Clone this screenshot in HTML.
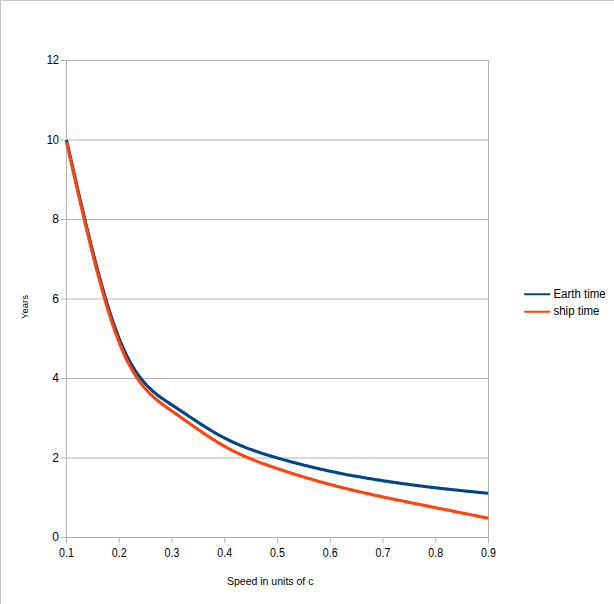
<!DOCTYPE html>
<html><head><meta charset="utf-8"><style>
html,body{margin:0;padding:0;background:#fff;}
body{width:614px;height:604px;overflow:hidden;position:relative;}
svg{position:absolute;left:0;top:0;}
text{font-family:"Liberation Sans",sans-serif;fill:#000;}
</style></head><body>
<svg width="614" height="604" viewBox="0 0 614 604">
<defs><clipPath id="pa"><rect x="64" y="40" width="424" height="520"/></clipPath></defs>
<rect x="0" y="0" width="614" height="604" fill="#fff"/>
<rect x="0" y="0" width="1" height="604" fill="#c6c6c6"/>
<rect x="0" y="0" width="614" height="1" fill="#c6c6c6"/>
<g stroke="#b3b3b3" stroke-width="1">
<line x1="61" y1="537.50" x2="488.5" y2="537.50"/><line x1="61" y1="458.00" x2="488.5" y2="458.00"/><line x1="61" y1="378.50" x2="488.5" y2="378.50"/><line x1="61" y1="299.00" x2="488.5" y2="299.00"/><line x1="61" y1="219.50" x2="488.5" y2="219.50"/><line x1="61" y1="140.00" x2="488.5" y2="140.00"/><line x1="61" y1="60.50" x2="488.5" y2="60.50"/>
<line x1="66.5" y1="60" x2="66.5" y2="543"/>
<line x1="488.5" y1="60" x2="488.5" y2="537.5"/>
<line x1="66.50" y1="537" x2="66.50" y2="543"/><line x1="119.25" y1="537" x2="119.25" y2="543"/><line x1="172.00" y1="537" x2="172.00" y2="543"/><line x1="224.75" y1="537" x2="224.75" y2="543"/><line x1="277.50" y1="537" x2="277.50" y2="543"/><line x1="330.25" y1="537" x2="330.25" y2="543"/><line x1="383.00" y1="537" x2="383.00" y2="543"/><line x1="435.75" y1="537" x2="435.75" y2="543"/><line x1="488.50" y1="537" x2="488.50" y2="543"/>
</g>
<g fill="none" stroke-width="3.1" stroke-linejoin="round" stroke-linecap="butt" transform="translate(0.5,0.5)" clip-path="url(#pa)">
<path d="M66.00 139.50 L67.32 145.30 L68.64 151.10 L69.96 156.89 L71.27 162.68 L72.59 168.45 L73.91 174.20 L75.23 179.94 L76.55 185.65 L77.87 191.34 L79.19 197.00 L80.51 202.63 L81.83 208.23 L83.14 213.79 L84.46 219.31 L85.78 224.78 L87.10 230.21 L88.42 235.58 L89.74 240.91 L91.06 246.17 L92.38 251.38 L93.69 256.53 L95.01 261.61 L96.33 266.62 L97.65 271.56 L98.97 276.42 L100.29 281.21 L101.61 285.91 L102.93 290.53 L104.24 295.06 L105.56 299.51 L106.88 303.85 L108.20 308.10 L109.52 312.26 L110.84 316.30 L112.16 320.25 L113.47 324.08 L114.79 327.80 L116.11 331.40 L117.43 334.89 L118.75 338.25 L120.07 341.49 L121.39 344.61 L122.71 347.61 L124.03 350.49 L125.34 353.26 L126.66 355.92 L127.98 358.48 L129.30 360.93 L130.62 363.29 L131.94 365.54 L133.26 367.71 L134.57 369.79 L135.89 371.77 L137.21 373.68 L138.53 375.51 L139.85 377.25 L141.17 378.93 L142.49 380.53 L143.81 382.07 L145.12 383.54 L146.44 384.96 L147.76 386.31 L149.08 387.61 L150.40 388.86 L151.72 390.06 L153.04 391.22 L154.36 392.33 L155.68 393.41 L156.99 394.45 L158.31 395.46 L159.63 396.44 L160.95 397.39 L162.27 398.33 L163.59 399.24 L164.91 400.14 L166.23 401.02 L167.54 401.90 L168.86 402.77 L170.18 403.63 L171.50 404.50 L172.82 405.37 L174.14 406.24 L175.46 407.12 L176.77 407.99 L178.09 408.87 L179.41 409.75 L180.73 410.63 L182.05 411.51 L183.37 412.40 L184.69 413.28 L186.01 414.16 L187.32 415.04 L188.64 415.92 L189.96 416.79 L191.28 417.67 L192.60 418.54 L193.92 419.41 L195.24 420.27 L196.56 421.13 L197.87 421.99 L199.19 422.84 L200.51 423.69 L201.83 424.53 L203.15 425.37 L204.47 426.20 L205.79 427.02 L207.11 427.84 L208.43 428.65 L209.74 429.45 L211.06 430.24 L212.38 431.03 L213.70 431.80 L215.02 432.57 L216.34 433.32 L217.66 434.07 L218.98 434.80 L220.29 435.52 L221.61 436.24 L222.93 436.94 L224.25 437.62 L225.57 438.30 L226.89 438.96 L228.21 439.61 L229.53 440.25 L230.84 440.88 L232.16 441.50 L233.48 442.10 L234.80 442.70 L236.12 443.28 L237.44 443.85 L238.76 444.41 L240.08 444.97 L241.39 445.51 L242.71 446.04 L244.03 446.57 L245.35 447.09 L246.67 447.59 L247.99 448.09 L249.31 448.58 L250.63 449.07 L251.94 449.54 L253.26 450.01 L254.58 450.47 L255.90 450.93 L257.22 451.38 L258.54 451.82 L259.86 452.26 L261.17 452.69 L262.49 453.11 L263.81 453.53 L265.13 453.95 L266.45 454.36 L267.77 454.76 L269.09 455.16 L270.41 455.56 L271.73 455.96 L273.04 456.35 L274.36 456.73 L275.68 457.12 L277.00 457.50 L278.32 457.88 L279.64 458.26 L280.96 458.63 L282.27 459.00 L283.59 459.37 L284.91 459.74 L286.23 460.11 L287.55 460.47 L288.87 460.83 L290.19 461.19 L291.51 461.54 L292.82 461.89 L294.14 462.24 L295.46 462.59 L296.78 462.94 L298.10 463.28 L299.42 463.62 L300.74 463.96 L302.06 464.29 L303.38 464.63 L304.69 464.96 L306.01 465.29 L307.33 465.61 L308.65 465.93 L309.97 466.25 L311.29 466.57 L312.61 466.89 L313.93 467.20 L315.24 467.51 L316.56 467.82 L317.88 468.12 L319.20 468.42 L320.52 468.72 L321.84 469.02 L323.16 469.32 L324.47 469.61 L325.79 469.90 L327.11 470.18 L328.43 470.47 L329.75 470.75 L331.07 471.03 L332.39 471.31 L333.71 471.58 L335.02 471.85 L336.34 472.12 L337.66 472.39 L338.98 472.65 L340.30 472.91 L341.62 473.17 L342.94 473.43 L344.26 473.68 L345.57 473.93 L346.89 474.18 L348.21 474.43 L349.53 474.68 L350.85 474.92 L352.17 475.16 L353.49 475.40 L354.81 475.64 L356.12 475.87 L357.44 476.11 L358.76 476.34 L360.08 476.57 L361.40 476.79 L362.72 477.02 L364.04 477.24 L365.36 477.47 L366.68 477.69 L367.99 477.91 L369.31 478.12 L370.63 478.34 L371.95 478.55 L373.27 478.77 L374.59 478.98 L375.91 479.19 L377.22 479.40 L378.54 479.60 L379.86 479.81 L381.18 480.01 L382.50 480.21 L383.82 480.42 L385.14 480.62 L386.46 480.81 L387.77 481.01 L389.09 481.21 L390.41 481.40 L391.73 481.60 L393.05 481.79 L394.37 481.98 L395.69 482.17 L397.01 482.36 L398.32 482.55 L399.64 482.74 L400.96 482.92 L402.28 483.10 L403.60 483.29 L404.92 483.47 L406.24 483.65 L407.56 483.83 L408.88 484.01 L410.19 484.18 L411.51 484.36 L412.83 484.53 L414.15 484.71 L415.47 484.88 L416.79 485.05 L418.11 485.22 L419.43 485.39 L420.74 485.55 L422.06 485.72 L423.38 485.88 L424.70 486.05 L426.02 486.21 L427.34 486.37 L428.66 486.53 L429.98 486.69 L431.29 486.85 L432.61 487.00 L433.93 487.16 L435.25 487.31 L436.57 487.47 L437.89 487.62 L439.21 487.77 L440.52 487.92 L441.84 488.07 L443.16 488.21 L444.48 488.36 L445.80 488.51 L447.12 488.65 L448.44 488.79 L449.76 488.94 L451.07 489.08 L452.39 489.22 L453.71 489.36 L455.03 489.50 L456.35 489.64 L457.67 489.78 L458.99 489.92 L460.31 490.05 L461.62 490.19 L462.94 490.32 L464.26 490.46 L465.58 490.59 L466.90 490.73 L468.22 490.86 L469.54 491.00 L470.86 491.13 L472.18 491.26 L473.49 491.39 L474.81 491.53 L476.13 491.66 L477.45 491.79 L478.77 491.92 L480.09 492.05 L481.41 492.18 L482.73 492.31 L484.04 492.44 L485.36 492.57 L486.68 492.70 L488.00 492.83" stroke="#004586"/>
<path d="M66.00 141.49 L67.32 147.34 L68.64 153.19 L69.96 159.04 L71.27 164.87 L72.59 170.69 L73.91 176.50 L75.23 182.28 L76.55 188.05 L77.87 193.79 L79.19 199.50 L80.51 205.18 L81.83 210.83 L83.14 216.43 L84.46 222.00 L85.78 227.53 L87.10 233.00 L88.42 238.43 L89.74 243.80 L91.06 249.12 L92.38 254.38 L93.69 259.58 L95.01 264.71 L96.33 269.77 L97.65 274.76 L98.97 279.67 L100.29 284.51 L101.61 289.26 L102.93 293.94 L104.24 298.52 L105.56 303.01 L106.88 307.41 L108.20 311.71 L109.52 315.91 L110.84 320.01 L112.16 324.01 L113.47 327.89 L114.79 331.66 L116.11 335.31 L117.43 338.85 L118.75 342.27 L120.07 345.56 L121.39 348.72 L122.71 351.77 L124.03 354.71 L125.34 357.53 L126.66 360.25 L127.98 362.85 L129.30 365.36 L130.62 367.76 L131.94 370.07 L133.26 372.29 L134.57 374.42 L135.89 376.46 L137.21 378.42 L138.53 380.29 L139.85 382.09 L141.17 383.82 L142.49 385.48 L143.81 387.07 L145.12 388.59 L146.44 390.06 L147.76 391.46 L149.08 392.82 L150.40 394.12 L151.72 395.37 L153.04 396.58 L154.36 397.75 L155.68 398.88 L156.99 399.97 L158.31 401.03 L159.63 402.06 L160.95 403.07 L162.27 404.06 L163.59 405.02 L164.91 405.97 L166.23 406.91 L167.54 407.84 L168.86 408.76 L170.18 409.68 L171.50 410.60 L172.82 411.53 L174.14 412.45 L175.46 413.38 L176.77 414.31 L178.09 415.24 L179.41 416.18 L180.73 417.11 L182.05 418.05 L183.37 418.98 L184.69 419.92 L186.01 420.85 L187.32 421.79 L188.64 422.72 L189.96 423.65 L191.28 424.58 L192.60 425.50 L193.92 426.43 L195.24 427.35 L196.56 428.26 L197.87 429.17 L199.19 430.08 L200.51 430.98 L201.83 431.88 L203.15 432.77 L204.47 433.66 L205.79 434.54 L207.11 435.41 L208.43 436.27 L209.74 437.13 L211.06 437.98 L212.38 438.82 L213.70 439.65 L215.02 440.47 L216.34 441.28 L217.66 442.08 L218.98 442.87 L220.29 443.65 L221.61 444.42 L222.93 445.18 L224.25 445.92 L225.57 446.65 L226.89 447.37 L228.21 448.08 L229.53 448.78 L230.84 449.46 L232.16 450.13 L233.48 450.80 L234.80 451.45 L236.12 452.09 L237.44 452.72 L238.76 453.34 L240.08 453.95 L241.39 454.55 L242.71 455.14 L244.03 455.73 L245.35 456.30 L246.67 456.87 L247.99 457.43 L249.31 457.98 L250.63 458.52 L251.94 459.05 L253.26 459.58 L254.58 460.10 L255.90 460.62 L257.22 461.12 L258.54 461.62 L259.86 462.12 L261.17 462.61 L262.49 463.10 L263.81 463.58 L265.13 464.05 L266.45 464.52 L267.77 464.99 L269.09 465.45 L270.41 465.91 L271.73 466.36 L273.04 466.81 L274.36 467.26 L275.68 467.71 L277.00 468.15 L278.32 468.59 L279.64 469.03 L280.96 469.47 L282.27 469.90 L283.59 470.33 L284.91 470.76 L286.23 471.19 L287.55 471.61 L288.87 472.04 L290.19 472.46 L291.51 472.88 L292.82 473.29 L294.14 473.71 L295.46 474.12 L296.78 474.53 L298.10 474.93 L299.42 475.34 L300.74 475.74 L302.06 476.14 L303.38 476.54 L304.69 476.93 L306.01 477.33 L307.33 477.72 L308.65 478.10 L309.97 478.49 L311.29 478.87 L312.61 479.26 L313.93 479.63 L315.24 480.01 L316.56 480.39 L317.88 480.76 L319.20 481.13 L320.52 481.49 L321.84 481.86 L323.16 482.22 L324.47 482.58 L325.79 482.94 L327.11 483.30 L328.43 483.65 L329.75 484.00 L331.07 484.35 L332.39 484.69 L333.71 485.04 L335.02 485.38 L336.34 485.72 L337.66 486.06 L338.98 486.39 L340.30 486.72 L341.62 487.05 L342.94 487.38 L344.26 487.71 L345.57 488.03 L346.89 488.36 L348.21 488.68 L349.53 489.00 L350.85 489.31 L352.17 489.63 L353.49 489.94 L354.81 490.25 L356.12 490.56 L357.44 490.87 L358.76 491.18 L360.08 491.48 L361.40 491.79 L362.72 492.09 L364.04 492.39 L365.36 492.69 L366.68 492.98 L367.99 493.28 L369.31 493.57 L370.63 493.87 L371.95 494.16 L373.27 494.45 L374.59 494.74 L375.91 495.03 L377.22 495.31 L378.54 495.60 L379.86 495.88 L381.18 496.16 L382.50 496.45 L383.82 496.73 L385.14 497.01 L386.46 497.29 L387.77 497.57 L389.09 497.84 L390.41 498.12 L391.73 498.39 L393.05 498.67 L394.37 498.94 L395.69 499.22 L397.01 499.49 L398.32 499.76 L399.64 500.03 L400.96 500.30 L402.28 500.57 L403.60 500.84 L404.92 501.11 L406.24 501.38 L407.56 501.64 L408.88 501.91 L410.19 502.18 L411.51 502.44 L412.83 502.71 L414.15 502.97 L415.47 503.24 L416.79 503.50 L418.11 503.77 L419.43 504.03 L420.74 504.30 L422.06 504.56 L423.38 504.82 L424.70 505.09 L426.02 505.35 L427.34 505.61 L428.66 505.87 L429.98 506.14 L431.29 506.40 L432.61 506.66 L433.93 506.92 L435.25 507.19 L436.57 507.45 L437.89 507.71 L439.21 507.98 L440.52 508.24 L441.84 508.50 L443.16 508.77 L444.48 509.03 L445.80 509.29 L447.12 509.56 L448.44 509.82 L449.76 510.08 L451.07 510.35 L452.39 510.61 L453.71 510.87 L455.03 511.14 L456.35 511.40 L457.67 511.67 L458.99 511.93 L460.31 512.19 L461.62 512.46 L462.94 512.72 L464.26 512.99 L465.58 513.25 L466.90 513.52 L468.22 513.78 L469.54 514.04 L470.86 514.31 L472.18 514.57 L473.49 514.84 L474.81 515.10 L476.13 515.37 L477.45 515.63 L478.77 515.90 L480.09 516.16 L481.41 516.43 L482.73 516.69 L484.04 516.95 L485.36 517.22 L486.68 517.48 L488.00 517.75" stroke="#ff420e"/>
</g>
<g font-size="12">
<text x="59.0" y="541.00" text-anchor="end">0</text><text x="59.0" y="462.00" text-anchor="end">2</text><text x="59.0" y="382.00" text-anchor="end">4</text><text x="59.0" y="303.00" text-anchor="end">6</text><text x="59.0" y="223.00" text-anchor="end">8</text><text x="46.70" y="144.00" textLength="12.30" lengthAdjust="spacingAndGlyphs">10</text><text x="46.70" y="64.00" textLength="12.30" lengthAdjust="spacingAndGlyphs">12</text>
<text x="59.10" y="557.0" textLength="14.80" lengthAdjust="spacingAndGlyphs">0.1</text><text x="111.85" y="557.0" textLength="14.80" lengthAdjust="spacingAndGlyphs">0.2</text><text x="164.60" y="557.0" textLength="14.80" lengthAdjust="spacingAndGlyphs">0.3</text><text x="217.35" y="557.0" textLength="14.80" lengthAdjust="spacingAndGlyphs">0.4</text><text x="270.10" y="557.0" textLength="14.80" lengthAdjust="spacingAndGlyphs">0.5</text><text x="322.85" y="557.0" textLength="14.80" lengthAdjust="spacingAndGlyphs">0.6</text><text x="375.60" y="557.0" textLength="14.80" lengthAdjust="spacingAndGlyphs">0.7</text><text x="428.35" y="557.0" textLength="14.80" lengthAdjust="spacingAndGlyphs">0.8</text><text x="481.10" y="557.0" textLength="14.80" lengthAdjust="spacingAndGlyphs">0.9</text>
</g>
<text x="553.5" y="298" font-size="12.5" textLength="52.1" lengthAdjust="spacingAndGlyphs">Earth time</text>
<text x="553.5" y="315" font-size="12.5" textLength="45.9" lengthAdjust="spacingAndGlyphs">ship time</text>
<line x1="525" y1="294.2" x2="549.5" y2="294.2" stroke="#004586" stroke-width="2" stroke-linecap="round"/>
<line x1="525" y1="311.8" x2="549.5" y2="311.8" stroke="#ff420e" stroke-width="2" stroke-linecap="round"/>
<text x="227" y="585" font-size="10.5">Speed in units of c</text>
<text transform="translate(27.75,319) rotate(-90)" font-size="9.5">Years</text>
</svg>
</body></html>
